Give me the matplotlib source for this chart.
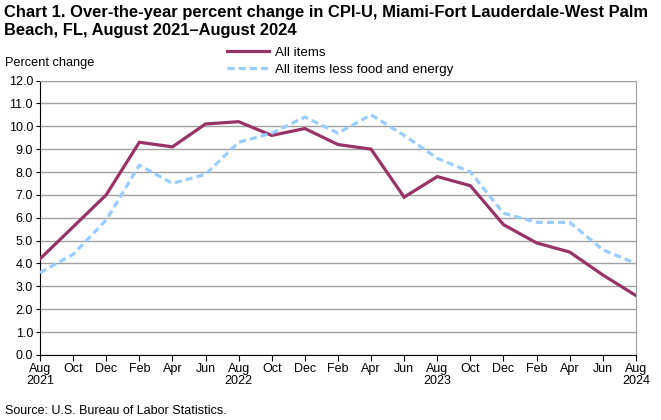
import matplotlib
matplotlib.use("Agg")
import matplotlib.pyplot as plt

plt.rcParams['font.family'] = ['Liberation Sans', 'DejaVu Sans']

months = ["Aug\n2021", "Oct", "Dec", "Feb", "Apr", "Jun", "Aug\n2022", "Oct", "Dec",
          "Feb", "Apr", "Jun", "Aug\n2023", "Oct", "Dec", "Feb", "Apr", "Jun", "Aug\n2024"]
all_items = [4.2, 5.6, 7.0, 9.3, 9.1, 10.1, 10.2, 9.6, 9.9, 9.2,
             9.0, 6.9, 7.8, 7.4, 5.7, 4.9, 4.5, 3.5, 2.6]
core = [3.6, 4.4, 5.9, 8.3, 7.5, 7.9, 9.3, 9.7, 10.4, 9.7,
        10.5, 9.6, 8.6, 8.0, 6.2, 5.8, 5.8, 4.6, 4.0]
yticks = [i for i in range(13)]

fig = plt.figure(figsize=(6.61, 4.20), dpi=100)
ax = fig.add_axes([0.0605, 0.1548, 0.9015, 0.6535])

x = list(range(len(months)))
ax.plot(x, all_items, color="#993366", linewidth=2.3, label="All items",
        solid_joinstyle="miter", zorder=3)
ax.plot(x, core, color="#99ccff", linewidth=2.3, linestyle=(0, (2.2, 1.3)),
        label="All items less food and energy", zorder=3)

ax.set_xlim(0, len(months) - 1)
ax.set_ylim(0, 12)
ax.set_yticks(yticks)
ax.set_yticklabels([f"{v:.1f}" for v in yticks], fontsize=9)
ax.set_xticks(x)
ax.set_xticklabels(months, fontsize=9, linespacing=1.0)
ax.grid(axis="y", color="#a0a0a0", linewidth=1)
ax.set_axisbelow(True)
for s in ("top", "right"):
    ax.spines[s].set_color("#a0a0a0")
for s in ("left", "bottom"):
    ax.spines[s].set_color("black")
ax.tick_params(axis="x", length=4, direction="out", pad=2, colors="black")
ax.tick_params(axis="y", length=3, direction="out", pad=2)

fig.text(0.006, 0.988, "Chart 1. Over-the-year percent change in CPI-U, Miami-Fort Lauderdale-West Palm\nBeach, FL, August 2021\u2013August 2024",
         fontsize=11.9, fontweight="bold", va="top", ha="left", linespacing=1.25)
fig.text(0.008, 0.85, "Percent change", fontsize=9.2, va="center", ha="left")
fig.text(0.008, 0.022, "Source: U.S. Bureau of Labor Statistics.", fontsize=9, va="center", ha="left")

leg = fig.legend(loc="upper left", bbox_to_anchor=(0.343, 0.89), frameon=False,
                 fontsize=9.6, handlelength=3.2, handletextpad=0.4, labelspacing=0.35,
                 borderaxespad=0, borderpad=0)

fig.savefig("out.png", dpi=100)
